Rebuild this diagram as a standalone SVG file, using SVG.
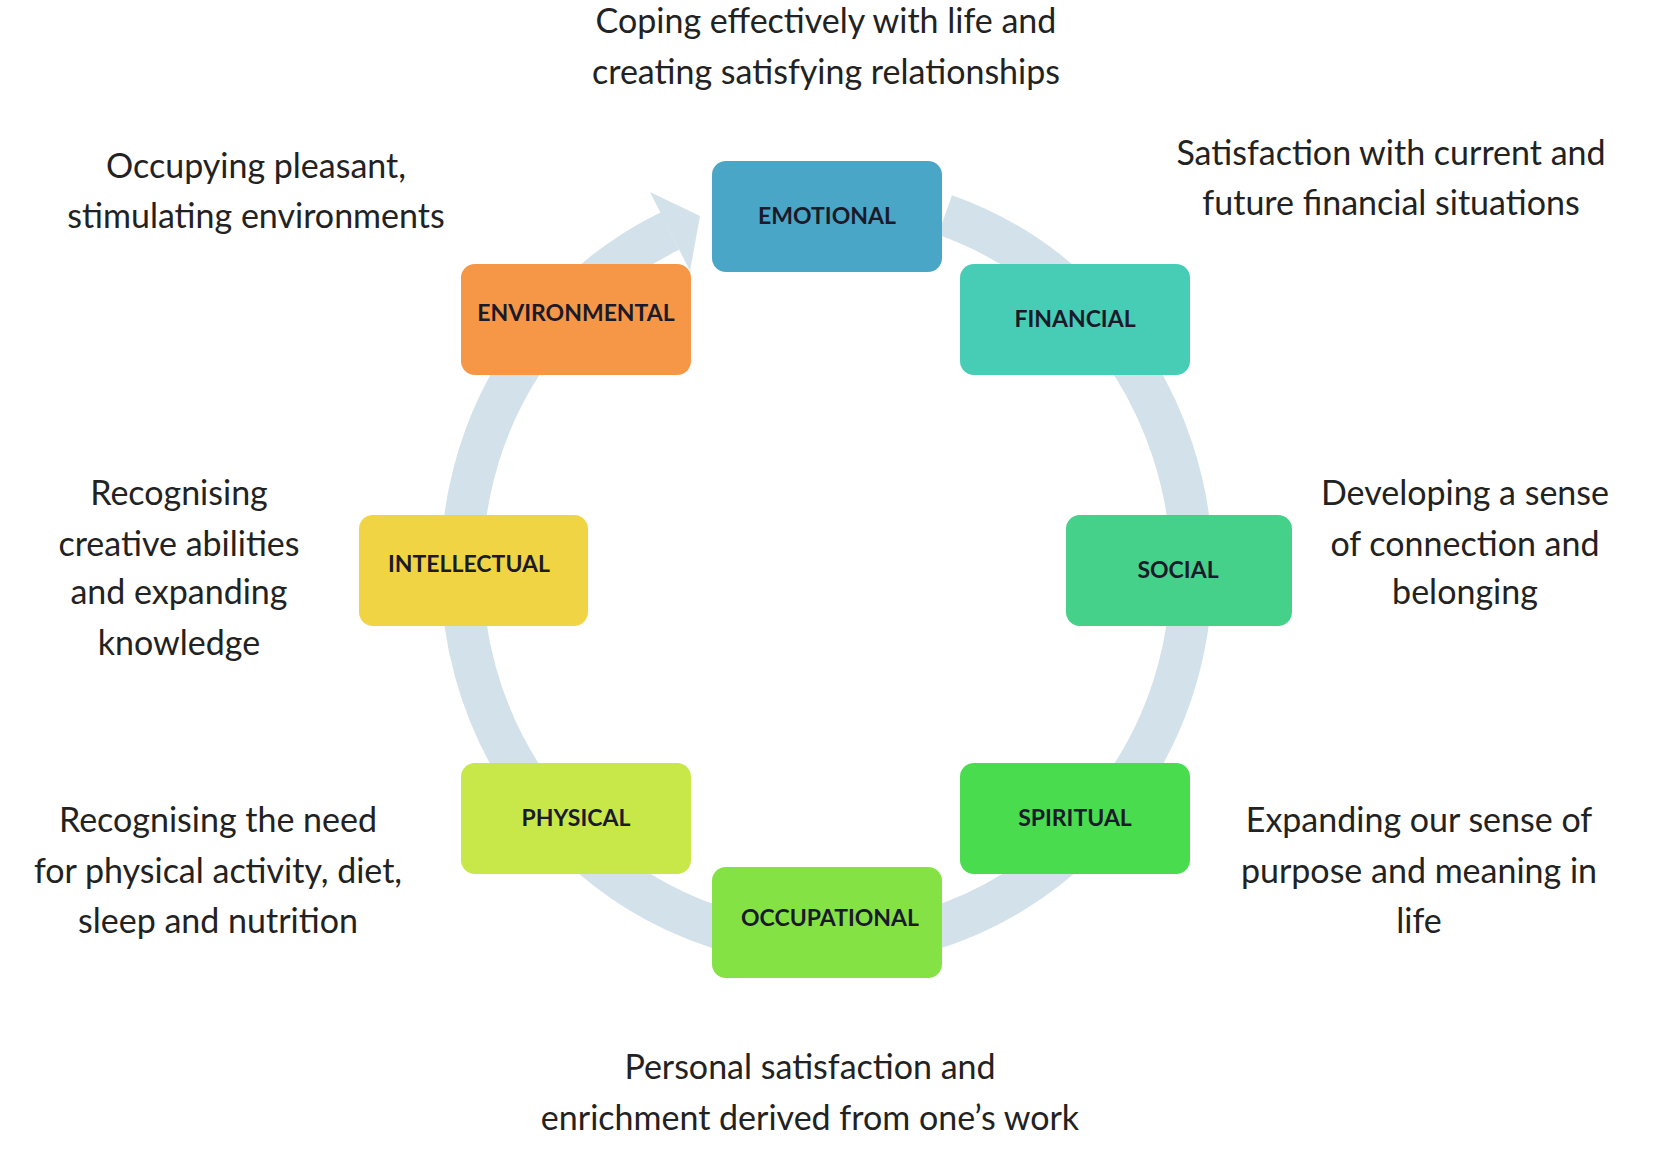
<svg xmlns="http://www.w3.org/2000/svg" width="1654" height="1149" viewBox="0 0 1654 1149">
<style>
.d{font-family:Lato,"Open Sans","Liberation Sans",sans-serif;font-size:34px;fill:#222;text-anchor:middle}
.b{font-family:Lato,"Liberation Sans",sans-serif;font-size:23px;font-weight:bold;fill:#1a1a2a;text-anchor:middle}
.n rect{rx:14;ry:14}
</style>
<rect width="1654" height="1149" fill="#fff"/>
<g id="connectors">
<path d="M 945 215 A 365 375 0 1 1 670 231" fill="none" stroke="#d3e2ea" stroke-width="42"/>
<polygon points="650,192 690,271 700,216" fill="#d3e2ea"/>
</g>
<g id="emotional" class="n"><rect x="712" y="161" width="230" height="111" fill="#4aa6c6"/><text class="b" x="827" y="224">EMOTIONAL</text></g>
<g id="financial" class="n"><rect x="960" y="264" width="230" height="111" fill="#47cdb5"/><text class="b" x="1075" y="327">FINANCIAL</text></g>
<g id="environmental" class="n"><rect x="461" y="264" width="230" height="111" fill="#f59746"/><text class="b" x="576" y="321">ENVIRONMENTAL</text></g>
<g id="intellectual" class="n"><rect x="359" y="515" width="229" height="111" fill="#f0d444"/><text class="b" x="469" y="572">INTELLECTUAL</text></g>
<g id="social" class="n"><rect x="1066" y="515" width="226" height="111" fill="#45d18a"/><text class="b" x="1178" y="578">SOCIAL</text></g>
<g id="physical" class="n"><rect x="461" y="763" width="230" height="111" fill="#c8e84a"/><text class="b" x="576" y="826">PHYSICAL</text></g>
<g id="spiritual" class="n"><rect x="960" y="763" width="230" height="111" fill="#48dc4e"/><text class="b" x="1075" y="826">SPIRITUAL</text></g>
<g id="occupational" class="n"><rect x="712" y="867" width="230" height="111" fill="#84e245"/><text class="b" x="830" y="926">OCCUPATIONAL</text></g>
<g id="labels">
<text class="d" x="826" y="33">Coping effectively with life and</text>
<text class="d" x="826" y="84">creating satisfying relationships</text>
<text class="d" x="256" y="178">Occupying pleasant,</text>
<text class="d" x="256" y="228">stimulating environments</text>
<text class="d" x="1391" y="165">Satisfaction with current and</text>
<text class="d" x="1391" y="215">future financial situations</text>
<text class="d" x="179" y="505">Recognising</text>
<text class="d" x="179" y="556">creative abilities</text>
<text class="d" x="179" y="604">and expanding</text>
<text class="d" x="179" y="655">knowledge</text>
<text class="d" x="1465" y="505">Developing a sense</text>
<text class="d" x="1465" y="556">of connection  and</text>
<text class="d" x="1465" y="604">belonging</text>
<text class="d" x="218" y="832">Recognising the need</text>
<text class="d" x="218" y="883">for physical activity, diet,</text>
<text class="d" x="218" y="933">sleep and nutrition</text>
<text class="d" x="1419" y="832">Expanding our sense of</text>
<text class="d" x="1419" y="883">purpose and meaning in</text>
<text class="d" x="1419" y="933">life</text>
<text class="d" x="810" y="1079">Personal satisfaction and</text>
<text class="d" x="810" y="1130">enrichment derived from one’s work</text>
</g>
</svg>
